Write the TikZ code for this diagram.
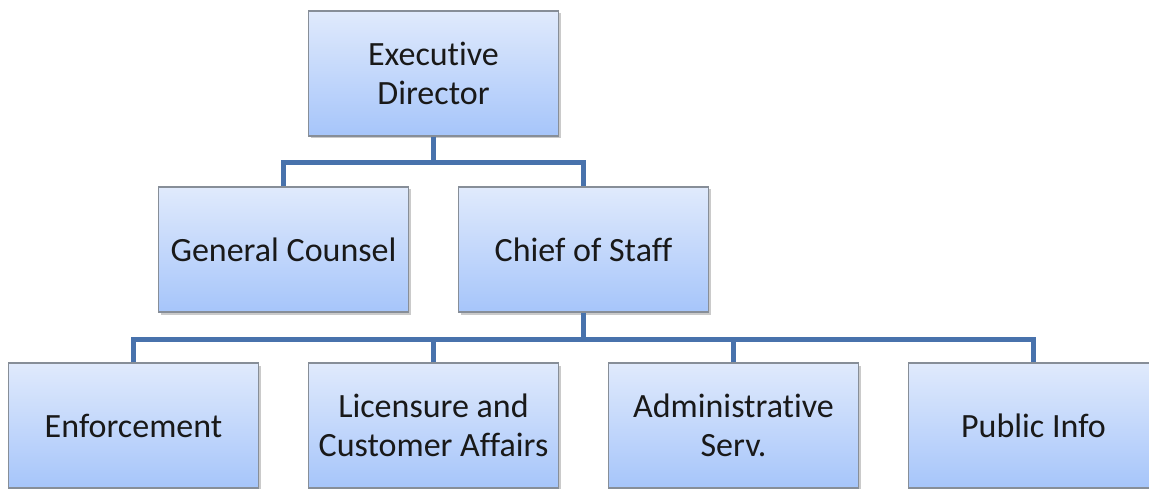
\documentclass[tikz,border=0pt]{standalone}
\usepackage{fontspec}
\setmainfont{Carlito}[Ligatures={NoCommon,NoContextual}]
\usetikzlibrary{shadows}
\definecolor{boxtop}{RGB}{224,234,252}
\definecolor{boxbot}{RGB}{166,197,250}
\definecolor{boxline}{RGB}{135,142,152}
\definecolor{connblue}{RGB}{72,114,172}
\definecolor{txt}{RGB}{25,25,25}
\tikzset{
  unit/.style={draw=boxline, line width=1.3pt, top color=boxtop, bottom color=boxbot,
    minimum width=250pt, minimum height=125pt, inner sep=0pt, align=center,
    text=txt, font=\fontsize{34}{39}\selectfont,
    drop shadow={opacity=0.35, shadow xshift=2pt, shadow yshift=-2.5pt, fill=black!60}},
  conn/.style={draw=connblue, line width=5.5pt, line join=miter}
}
\begin{document}
\begin{tikzpicture}[x=1pt,y=-1pt]
  \useasboundingbox (0,0) rectangle (1149,489);
  % first level
  \node[unit] (ed) at (433.5,73.5) {Executive\\Director};
  % second level
  \node[unit] (gc) at (283.5,249.5) {General Counsel};
  \node[unit] (cos) at (583.5,249.5) {Chief of Staff};
  % third level
  \node[unit] (enf) at (133.5,425.5) {Enforcement};
  \node[unit] (lic) at (433.5,425.5) {Licensure and\\Customer Affairs};
  \node[unit] (adm) at (733.5,425.5) {Administrative\\Serv.};
  \node[unit] (pub) at (1033.5,425.5) {Public Info};
  % connectors
  \draw[conn] (ed.south) -- ++(0,26) coordinate (j1);
  \draw[conn] (gc.north) |- (j1) -| (cos.north);
  \draw[conn] (cos.south) -- ++(0,27) coordinate (j2);
  \draw[conn] (enf.north) |- (j2) -| (pub.north);
  \draw[conn] (lic.north) -- (lic.north |- j2);
  \draw[conn] (adm.north) -- (adm.north |- j2);
\end{tikzpicture}
\end{document}
